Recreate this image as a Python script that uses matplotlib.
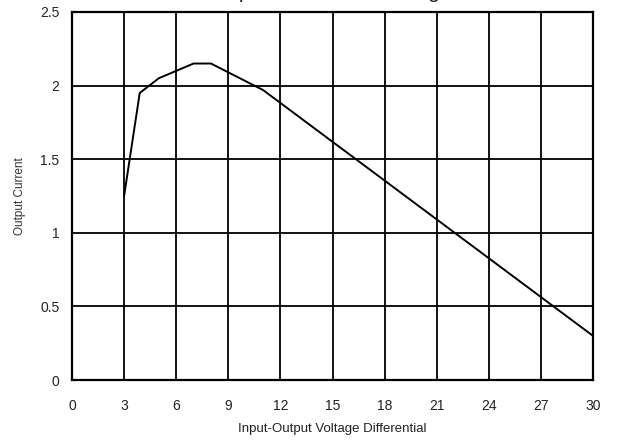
import matplotlib.pyplot as plt

# curve
vdiff = [3, 3.9, 5, 7, 8, 11, 30]
iout = [1.25, 1.95, 2.05, 2.15, 2.15, 1.97, 0.3]

x_ticks = [0, 3, 6, 9, 12, 15, 18, 21, 24, 27, 30]
y_ticks = [0, 0.5, 1, 1.5, 2, 2.5]
y_labels = ["0", "0.5", "1", "1.5", "2", "2.5"]

plt.rcParams['font.family'] = ['Liberation Sans', 'DejaVu Sans']

fig = plt.figure(figsize=(6.2, 4.46), dpi=100)
ax = fig.add_axes([72 / 620, 66 / 446, 521 / 620, 368 / 446])

ax.plot(vdiff, iout, color='black', linewidth=1.4)

ax.set_xlim(0, 30)
ax.set_ylim(0, 2.5)
ax.set_xticks(x_ticks)
ax.set_yticks(y_ticks)
ax.set_yticklabels(y_labels)
ax.tick_params(axis='both', length=0, labelsize=10, colors='#222222')
ax.tick_params(axis='x', pad=14)
ax.tick_params(axis='y', pad=9)
ax.grid(True, color='black', linewidth=1.3)
for s in ax.spines.values():
    s.set_linewidth(1.6)

ax.set_xlabel('Input-Output Voltage Differential', fontsize=9.5, color='#222222', labelpad=7)
ax.set_ylabel('Output Current', fontsize=8.5, color='#333333', labelpad=10)

# title sits mostly above the canvas, only descenders show
fig.text(381 / 620, 1 + 1.5 / 446, 'Output Current vs. Voltage Differential', ha='center',
         va='baseline', fontsize=15, color='#222222')

fig.savefig('out.png', dpi=100)
